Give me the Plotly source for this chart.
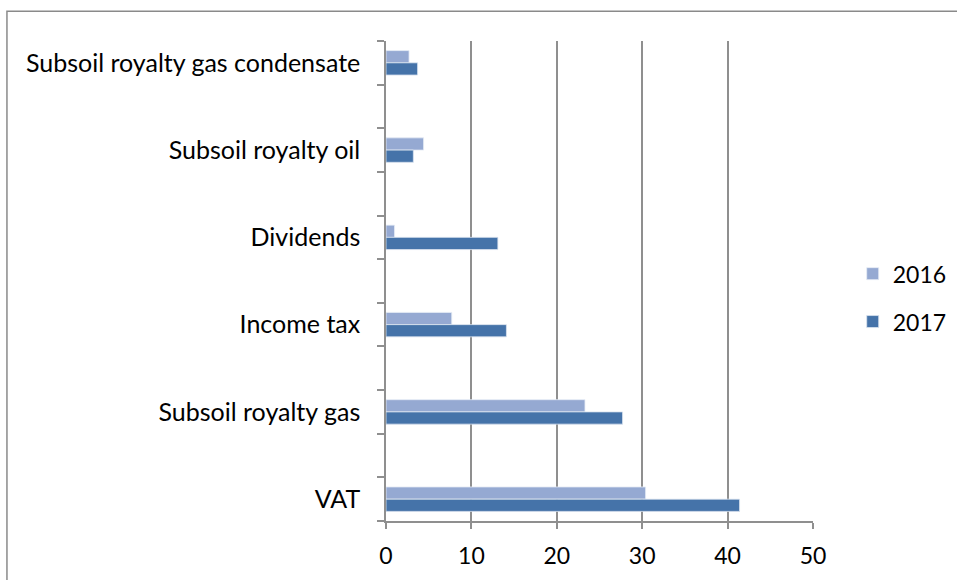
import plotly.graph_objects as go

categories = ["VAT", "Subsoil royalty gas", "Income tax", "Dividends",
              "Subsoil royalty oil", "Subsoil royalty gas condensate"]
values_2016 = [30.4, 23.3, 7.7, 1.0, 4.4, 2.7]
values_2017 = [41.4, 27.7, 14.1, 13.1, 3.2, 3.7]
x_ticks = [0, 10, 20, 30, 40, 50]

# categories sit on every other slot of the axis (blank slots in between)
ypos = [2 * i for i in range(len(categories))]
slot_edges = [k - 0.5 for k in range(0, 2 * len(categories))]

FONT = "Lato"
C16 = "#95A9D2"
C17 = "#4573A9"
GRID = "#8f8f8f"

fig = go.Figure()
fig.add_trace(go.Bar(
    name="2016", y=ypos, x=values_2016, orientation="h",
    width=0.28, offset=0.0, legendgroup="a",
    marker=dict(color=C16, line=dict(color="#e6ecf5", width=0.8)),
))
fig.add_trace(go.Bar(
    name="2017", y=ypos, x=values_2017, orientation="h",
    width=0.28, offset=-0.28, legendgroup="b",
    marker=dict(color=C17, line=dict(color="#dbe3ef", width=0.8)),
))

fig.update_layout(
    width=957, height=580,
    margin=dict(l=385.5, r=144, t=40.7, b=59.3, autoexpand=False),
    paper_bgcolor="white", plot_bgcolor="white",
    font=dict(family=FONT, size=25, color="black"),
    barmode="overlay",
    showlegend=True,
    legend=dict(x=1.093, y=0.56, xanchor="left", yanchor="top",
                font=dict(family=FONT, size=23, color="black"),
                bgcolor="rgba(0,0,0,0)", tracegroupgap=15),
    xaxis=dict(range=[0, 50], tickvals=x_ticks, ticktext=[str(v) for v in x_ticks],
               showgrid=True, gridcolor=GRID, gridwidth=1.5,
               showline=True, linecolor=GRID, linewidth=1.5,
               ticks="outside", ticklen=6, tickcolor=GRID, tickwidth=1.5,
               tickfont=dict(size=23), ticklabelstandoff=8,
               zeroline=False, fixedrange=True),
    yaxis=dict(range=[-0.5, 2 * len(categories) - 1.5],
               tickvals=ypos, ticktext=categories,
               ticks="", ticklabelstandoff=19,
               showgrid=False, zeroline=False,
               showline=True, linecolor=GRID, linewidth=1.5,
               minor=dict(tickvals=slot_edges, ticks="outside", ticklen=7,
                          tickcolor=GRID, tickwidth=1.5, showgrid=False),
               fixedrange=True),
)

# outer chart border
fig.add_shape(type="rect", xref="paper", yref="paper",
              x0=-0.8877, x1=2.0, y0=-1.0, y1=1.0619,
              line=dict(color="#8a8a8a", width=1.5), layer="below")

fig.write_html("out.html", config={"displayModeBar": False},
               post_script="document.body.style.margin='0';"
                           "document.body.style.overflow='hidden';")
